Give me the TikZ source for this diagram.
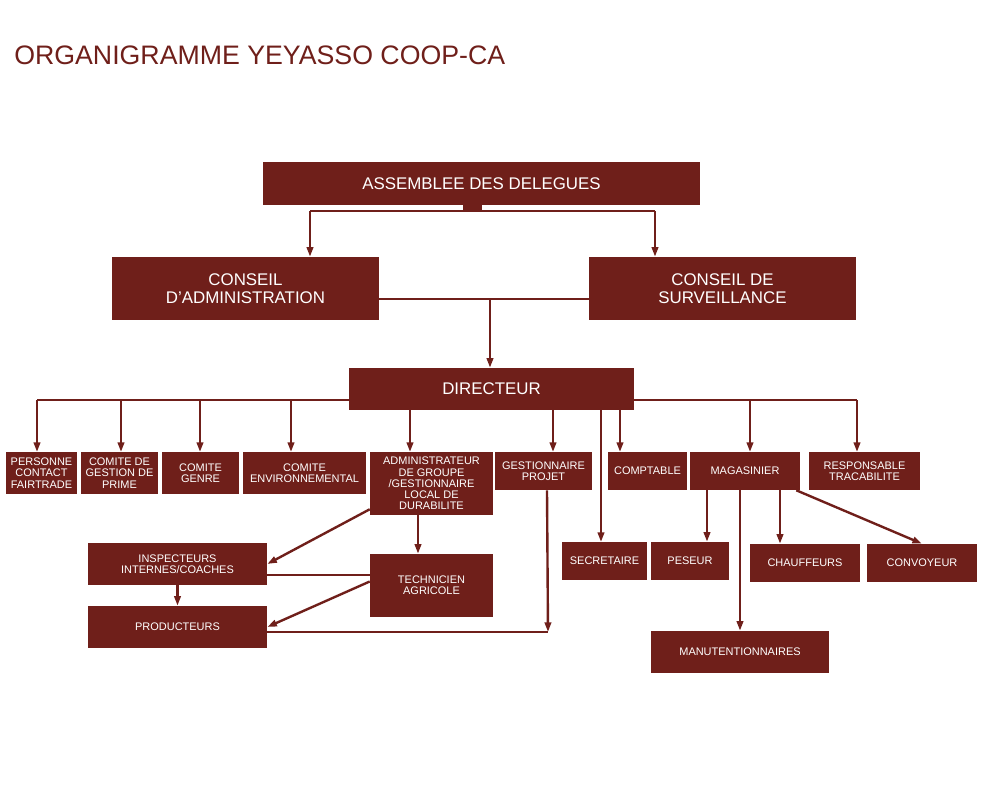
\documentclass[tikz,border=0pt]{standalone}
\usepackage{fontspec}
\setmainfont{Liberation Sans}
\usetikzlibrary{arrows.meta}
\definecolor{bordeaux}{HTML}{6F1F1A}
\tikzset{
    box/.style={
        fill=bordeaux,
        text=white,
        align=center,
        inner sep=1pt,
        font=\fontsize{7.8}{8}\selectfont
    },
    bigbox/.style={
        box,
        font=\fontsize{12}{12.5}\selectfont
    },
    link/.style={
        draw=bordeaux,
        line width=1.7pt
    },
    arr/.style={
        link,
        -{Triangle[length=2.4mm, width=1.6mm]}
    }
}
% box from corner (x1,y1) to (x2,y2), in pixels
\newcommand{\orgbox}[7][box]{%
    \node[#1, minimum width={(#5-#3)*0.025cm}, minimum height={(#6-#4)*0.025cm}]
        (#2) at ({(#3+#5)/2},{(#4+#6)/2}) {#7};}
\begin{document}
\begin{tikzpicture}[x=0.025cm, y=-0.025cm]
    \useasboundingbox (0,0) rectangle (1000,800);
    % Title
    \node[anchor=west, text=bordeaux, font=\fontsize{19}{20}\selectfont, inner sep=0pt] (title) at (14,55) {ORGANIGRAMME YEYASSO COOP-CA};

    % Boxes
    \orgbox[bigbox]{adl}{263}{162}{700}{205}{ASSEMBLEE DES DELEGUES}
    \orgbox[bigbox]{ca}{112}{257}{379}{320}{CONSEIL\\D'ADMINISTRATION}
    \orgbox[bigbox]{cs}{589}{257}{856}{320}{CONSEIL DE\\SURVEILLANCE}
    \orgbox[bigbox]{dir}{349}{368}{634}{410}{DIRECTEUR}
    \orgbox{pcf}{6}{452}{77}{494}{PERSONNE\\CONTACT\\FAIRTRADE}
    \orgbox{cgp}{81}{452}{158}{494}{COMITE DE\\GESTION DE\\PRIME}
    \orgbox{cg}{162}{452}{239}{494}{COMITE\\GENRE}
    \orgbox{ce}{243}{452}{366}{494}{COMITE\\ENVIRONNEMENTAL}
    \orgbox{adg}{370}{452}{493}{515}{ADMINISTRATEUR\\DE GROUPE\\/GESTIONNAIRE\\LOCAL DE\\DURABILITE}
    \orgbox{gp}{495}{452}{592}{490}{GESTIONNAIRE\\PROJET}
    \orgbox{comp}{608}{452}{687}{490}{COMPTABLE}
    \orgbox{mag}{690}{452}{800}{490}{MAGASINIER}
    \orgbox{rt}{809}{452}{920}{490}{RESPONSABLE\\TRACABILITE}
    \orgbox{iic}{88}{543}{267}{585}{INSPECTEURS\\INTERNES/COACHES}
    \orgbox{ta}{370}{554}{493}{617}{TECHNICIEN\\AGRICOLE}
    \orgbox{prod}{88}{606}{267}{648}{PRODUCTEURS}
    \orgbox{sec}{562}{542}{647}{580}{SECRETAIRE}
    \orgbox{pes}{651}{542}{729}{580}{PESEUR}
    \orgbox{chauf}{750}{544}{860}{582}{CHAUFFEURS}
    \orgbox{conv}{867}{544}{977}{582}{CONVOYEUR}
    \orgbox{manu}{651}{631}{829}{673}{MANUTENTIONNAIRES}

    % Upper levels
    \fill[bordeaux] (463,204) rectangle (482,211);
    \coordinate (adlL) at (310,211);
    \coordinate (adlR) at (655,211);
    \draw[link] (adlL) -- (adlR);
    \draw[arr] (adlL) -- (adlL |- ca.north);
    \draw[arr] (adlR) -- (adlR |- cs.north);
    \draw[link] (ca.east |- 0,299) -- (cs.west |- 0,299);
    \coordinate (conseils) at (490,299);
    \draw[arr] (conseils) -- (conseils |- dir.north);

    % Directeur bus
    \coordinate (busL) at (37,400);
    \coordinate (busR) at (857,400);
    \draw[link] (busL) -- (dir.west |- busL);
    \draw[link] (dir.east |- busR) -- (busR);
    \foreach \x/\n in {37/pcf, 121/cgp, 200/cg, 291/ce, 750/mag, 857/rt}
        \draw[arr] (\x,400) -- (\x,452);
    \foreach \x/\n in {410/adg, 553/gp, 620/comp}
        \draw[arr] (\x,410) -- (\x,452);
    \draw[arr] (601,410) -- (601,542);

    % Terrain
    \draw[arr] (adg.south west) ++(0,-6) -- (iic.east);
    \draw[arr] (adg.south -| 418,0) -- (ta.north -| 418,0);
    \draw[link] (iic.east |- 0,575) -- (ta.west |- 0,575);
    \draw[arr] (ta.west) ++(0,-4) -- (prod.east);
    \draw[arr] (iic.south) -- (prod.north);
    \coordinate (gpEnd) at (548,632);
    \draw[arr] (gp.south -| 547,0) -- (gpEnd);
    \draw[link] (prod.east |- gpEnd) -- (gpEnd);

    % Magasin
    \draw[arr] (mag.south -| 707,0) -- (pes.north -| 707,0);
    \draw[arr] (mag.south -| 740,0) -- (manu.north -| 740,0);
    \draw[arr] (mag.south -| 780,0) -- (chauf.north -| 780,0);
    \draw[arr] (mag.south east) ++(-4,0) -- (conv.north);
\end{tikzpicture}
\end{document}
